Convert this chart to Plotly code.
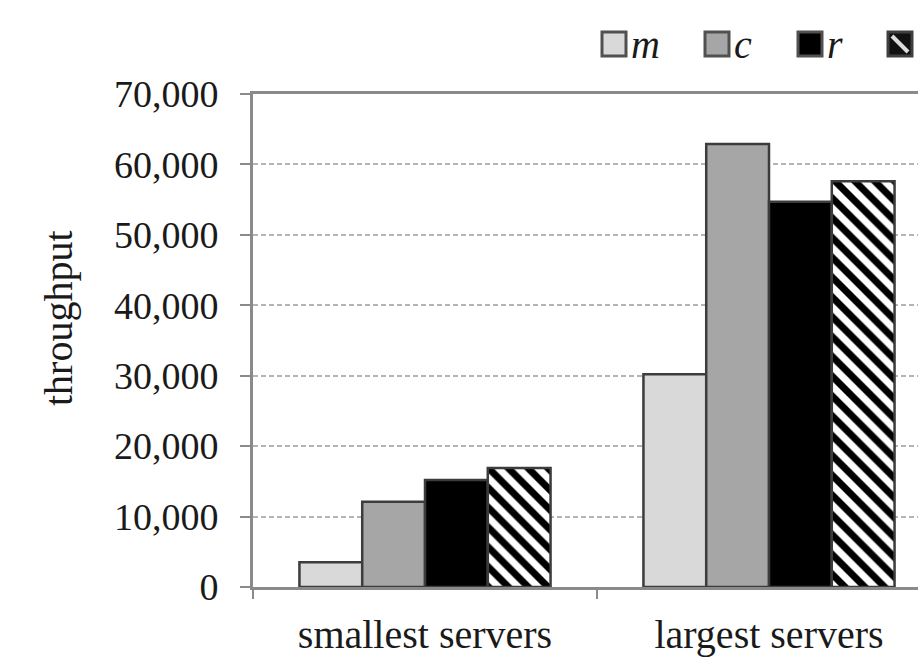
import plotly.graph_objects as go

# Throughput per server configuration
categories = ["smallest servers", "largest servers"]
series_names = ["m", "c", "r", "s"]
m_values = [3500, 30200]
c_values = [12100, 62900]
r_values = [15200, 54700]
s_values = [16900, 57600]
y_ticks = [0, 10000, 20000, 30000, 40000, 50000, 60000, 70000]

FONT = "Liberation Serif, Times New Roman, serif"
TEXT = "#1a1a1a"
EDGE = "#3c3c3c"
AXIS = "#8a8a8a"

W, H = 918, 657
L, R, T, B = 253, 0, 94, 70

fig = go.Figure()

styles = [
    dict(color="#d9d9d9"),
    dict(color="#a6a6a6"),
    dict(color="#000000"),
    dict(color="#ffffff",
         pattern=dict(shape="\\", fgcolor="#000000", bgcolor="#ffffff",
                      size=14, solidity=0.5, fillmode="replace", fgopacity=1)),
]
for name, vals, st in zip(series_names, [m_values, c_values, r_values, s_values], styles):
    fig.add_trace(go.Bar(
        x=categories, y=vals, name=name,
        marker=dict(line=dict(color=EDGE, width=2.5), **st),
        showlegend=False,
    ))

# plot-area pixel helpers for the legend placed above the axes
pw = W - L - R
ph = H - T - B
def px_x(p):
    return (p - L) / pw
def px_y(p):
    return (H - B - p) / ph

legend_boxes = [
    (614, "#d9d9d9", "m"),
    (717, "#a6a6a6", "c"),
    (810, "#000000", "r"),
]
shapes = []
annotations = []
for cx, fill, label in legend_boxes:
    shapes.append(dict(type="rect", xref="paper", yref="paper",
                       x0=px_x(cx - 12), x1=px_x(cx + 12),
                       y0=px_y(56), y1=px_y(32),
                       fillcolor=fill, line=dict(color="#505050", width=3)))
    annotations.append(dict(xref="paper", yref="paper", x=px_x(cx + 15), y=px_y(45),
                            xanchor="left", yanchor="middle", showarrow=False,
                            text="<i>%s</i>" % label,
                            font=dict(family=FONT, size=40, color=TEXT)))
# hatched legend swatch
hx = 900
shapes.append(dict(type="rect", xref="paper", yref="paper",
                   x0=px_x(hx - 12), x1=px_x(hx + 12), y0=px_y(56), y1=px_y(32),
                   fillcolor="#111111", line=dict(color="#404040", width=3)))
shapes.append(dict(type="line", xref="paper", yref="paper",
                   x0=px_x(hx - 8), x1=px_x(hx + 8), y0=px_y(36), y1=px_y(52),
                   line=dict(color="#dcdcdc", width=4)))

# y-axis title
annotations.append(dict(xref="paper", yref="paper", x=px_x(58), y=px_y(318),
                        xanchor="center", yanchor="middle", showarrow=False,
                        text="throughput", textangle=-90,
                        font=dict(family=FONT, size=40, color=TEXT)))

fig.update_layout(
    width=W, height=H,
    margin=dict(l=L, r=R, t=T, b=B, pad=0),
    paper_bgcolor="white", plot_bgcolor="white",
    barmode="group", bargap=0.27, bargroupgap=0,
    font=dict(family=FONT, size=40, color=TEXT),
    shapes=shapes, annotations=annotations,
    xaxis=dict(type="category", range=[-0.5, -0.5 + pw / 344.0],
               tickson="boundaries", ticks="outside", ticklen=9,
               tickwidth=2, tickcolor=AXIS,
               showline=True, linecolor=AXIS, linewidth=3, mirror=True,
               showgrid=False, ticklabelstandoff=10,
               tickfont=dict(family=FONT, size=40, color=TEXT)),
    yaxis=dict(range=[0, 70000], tickvals=y_ticks, tickformat=",",
               ticks="outside", ticklen=10, tickwidth=2, tickcolor=AXIS,
               showline=True, linecolor=AXIS, linewidth=3,
               showgrid=True, gridcolor="#b4b4b4", gridwidth=2, griddash="5px,3px",
               zeroline=False, ticklabelstandoff=14,
               tickfont=dict(family=FONT, size=38, color=TEXT)),
)

fig.write_html("out.html")
